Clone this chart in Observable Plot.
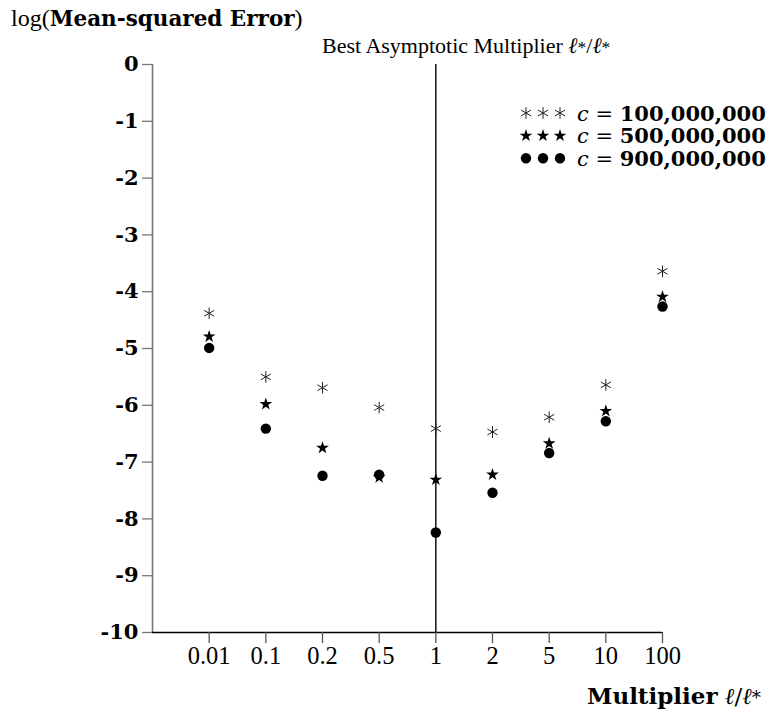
<!DOCTYPE html>
<html><head><meta charset="utf-8">
<script src="https://cdn.jsdelivr.net/npm/d3@7"></script>
<script src="https://cdn.jsdelivr.net/npm/@observablehq/plot@0.6"></script>
<style>html,body{margin:0;padding:0;background:#fff} svg{display:block}</style>
</head><body><div id="chart"></div>
<script>
// ---- data ----
const labels = ["0.01", "0.1", "0.2", "0.5", "1", "2", "5", "10", "100"];
const c100 = [-4.38, -5.50, -5.69, -6.04, -6.41, -6.47, -6.21, -5.64, -3.64];
const c500 = [-4.79, -5.98, -6.75, -7.27, -7.31, -7.22, -6.67, -6.10, -4.09];
const c900 = [-4.99, -6.41, -7.24, -7.22, -8.24, -7.54, -6.84, -6.28, -4.26];
const yTicks = [0, -1, -2, -3, -4, -5, -6, -7, -8, -9, -10];
const seriesNames = ["100,000,000", "500,000,000", "900,000,000"];
const seriesSymbols = ["asterisk", "star", "circle"];
const bestLabel = "1";

const idx = labels.map((_, i) => i);
const rows = (vals) => vals.map((v, i) => ({i, v}));
const bestIdx = labels.indexOf(bestLabel);
const FONT = "DejaVu Serif";
const FONT2 = "Liberation Serif";

const plot = Plot.plot({
  width: 777,
  height: 715,
  marginLeft: 152,
  marginRight: 115,
  marginTop: 64,
  marginBottom: 83,
  style: {fontFamily: FONT, background: "#fff", color: "#000", overflow: "visible"},
  x: {type: "linear", domain: [-1, labels.length - 1]},
  y: {domain: [-10, 0]},
  marks: [
    Plot.ruleX([-1], {y1: -10, y2: 0, stroke: "#777", strokeWidth: 1.6}),
    Plot.ruleY([-10], {x1: -1, x2: labels.length - 1, stroke: "#000", strokeWidth: 1.3}),
    Plot.ruleX([bestIdx], {y1: -10, y2: 0, stroke: "#000", strokeWidth: 1.4}),
    Plot.axisY({ticks: yTicks, tickSize: 10, tickPadding: 4, tickFormat: d => `${d}`,
      fontSize: 21, fontWeight: "bold", stroke: "#777", strokeWidth: 1.3, label: null}),
    Plot.axisX({ticks: idx, tickSize: 11, tickPadding: 3, tickFormat: i => labels[i],
      fontSize: 24.5, fontFamily: FONT2, stroke: "#555", strokeWidth: 1.3, label: null}),
    Plot.dot(rows(c100), {x: "i", y: "v", symbol: "asterisk", r: 5.5, stroke: "#222", strokeWidth: 1}),
    Plot.dot(rows(c500), {x: "i", y: "v", symbol: "star", r: 4, fill: "#000", stroke: "none"}),
    Plot.dot(rows(c900), {x: "i", y: "v", symbol: "circle", r: 5.2, fill: "#000", stroke: "none"})
  ]
});

document.getElementById("chart").appendChild(plot);
const svg = d3.select(plot);

function addText(x, y, parts, {anchor = "start", size = 21, family = FONT} = {}) {
  const t = svg.append("text")
    .attr("x", x).attr("y", y)
    .attr("text-anchor", anchor)
    .attr("font-family", family)
    .attr("font-size", size)
    .attr("fill", "#000");
  for (const p of parts) {
    const s = t.append("tspan").text(p.t);
    if (p.b) s.attr("font-weight", "bold");
    if (p.i) s.attr("font-style", "italic");
    if (p.sup) s.attr("font-size", size * 0.8);
    if (p.f) s.attr("font-family", p.f);
    if (p.s) s.attr("font-size", p.s);
  }
  return t;
}

// y-axis title
addText(11, 26, [{t: "log(", f: FONT2, s: 24}, {t: "Mean-squared Error", b: true}, {t: ")", f: FONT2, s: 24}], {size: 21.5});
// annotation above the best-multiplier line
addText(322, 53, [{t: "Best Asymptotic Multiplier "}, {t: "ℓ", i: true}, {t: "*", sup: true},
  {t: "/"}, {t: "ℓ", i: true}, {t: "*", sup: true}], {size: 22, family: FONT2});
// x-axis title
addText(761, 704, [{t: "Multiplier", b: true}, {t: " "}, {t: "ℓ", i: true}, {t: "/"}, {t: "ℓ", i: true}, {t: "*", sup: true}],
  {anchor: "end", size: 23});

// legend
const legendY = [113, 135.7, 158.3];
const symSize = {asterisk: 5.5 * 5.5 * Math.PI, star: 16 * Math.PI, circle: 5.2 * 5.2 * Math.PI};
const symType = {asterisk: d3.symbolAsterisk, star: d3.symbolStar, circle: d3.symbolCircle};
seriesSymbols.forEach((s, k) => {
  const path = d3.symbol(symType[s], symSize[s])();
  [526, 543, 560].forEach(cx => {
    const p = svg.append("path").attr("d", path).attr("transform", `translate(${cx},${legendY[k]})`);
    if (s === "asterisk") p.attr("fill", "none").attr("stroke", "#222").attr("stroke-width", 1);
    else p.attr("fill", "#000");
  });
  addText(577, legendY[k] + 7.6, [{t: "c", i: true}, {t: " = "}, {t: seriesNames[k], b: true}], {size: 21});
});
</script>
</body></html>
